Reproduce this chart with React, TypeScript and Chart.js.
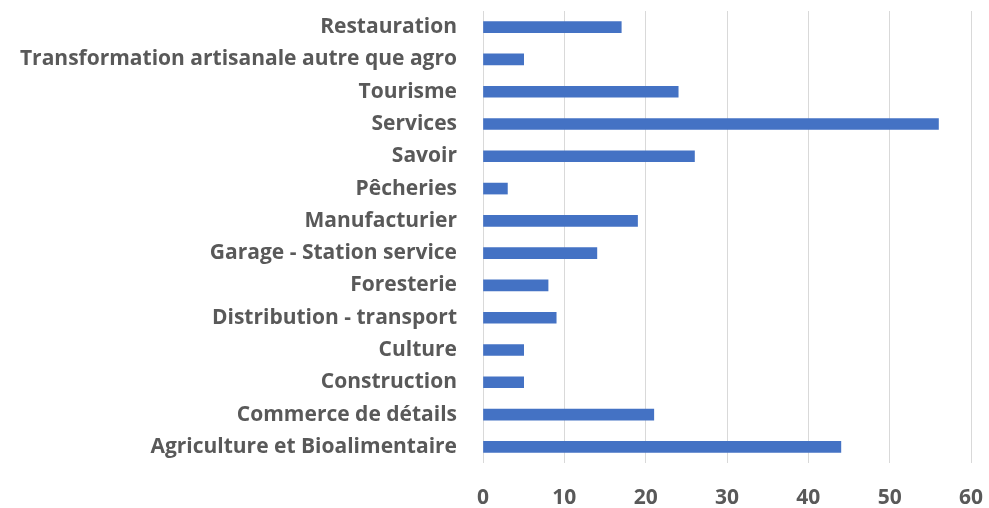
import React, { useEffect, useRef } from "react";
import { Chart, registerables } from "chart.js";

Chart.register(...registerables);

const categories = [
  "Restauration",
  "Transformation artisanale autre que agro",
  "Tourisme",
  "Services",
  "Savoir",
  "Pêcheries",
  "Manufacturier",
  "Garage - Station service",
  "Foresterie",
  "Distribution - transport",
  "Culture",
  "Construction",
  "Commerce de détails",
  "Agriculture et Bioalimentaire",
];

const values = [17, 5, 24, 56, 26, 3, 19, 14, 8, 9, 5, 5, 21, 44];

const xTicks = [0, 10, 20, 30, 40, 50, 60];

export default function App() {
  const ref = useRef<HTMLCanvasElement | null>(null);

  useEffect(() => {
    document.body.style.margin = "0";
    const canvas = ref.current;
    if (!canvas) return;
    const chart = new Chart(canvas, {
      type: "bar",
      data: {
        labels: categories,
        datasets: [
          {
            data: values,
            backgroundColor: "#4472C4",
            borderWidth: 0,
            barThickness: 11,
          },
        ],
      },
      options: {
        indexAxis: "y",
        animation: false,
        responsive: false,
        maintainAspectRatio: false,
        layout: { padding: { top: 11, right: 18, left: 0, bottom: 0 } },
        plugins: {
          legend: { display: false },
          tooltip: { enabled: false },
        },
        scales: {
          x: {
            min: xTicks[0],
            max: xTicks[xTicks.length - 1],
            afterBuildTicks: (scale: any) => {
              scale.ticks = xTicks.map((v) => ({ value: v }));
            },
            afterFit: (scale: any) => {
              scale.height = 45;
              scale.paddingRight = 0;
              scale.paddingLeft = 0;
            },
            grid: { color: "#d9d9d9", lineWidth: 1, drawTicks: false },
            border: { display: false },
            ticks: {
              color: "#595959",
              padding: 22,
              font: { family: "Open Sans", size: 21, weight: "bold" },
            },
          },
          y: {
            afterFit: (scale: any) => {
              scale.width = 483;
              scale.paddingTop = 0;
              scale.paddingBottom = 0;
            },
            grid: { display: false },
            border: { display: false },
            ticks: {
              color: "#595959",
              padding: 18,
              font: { family: "Open Sans", size: 21, weight: "bold" },
            },
          },
        },
      },
    });
    return () => chart.destroy();
  }, []);

  return (
    <div style={{ width: 989, height: 508, background: "#fff" }}>
      <canvas ref={ref} width={989} height={508} style={{ display: "block" }} />
    </div>
  );
}
